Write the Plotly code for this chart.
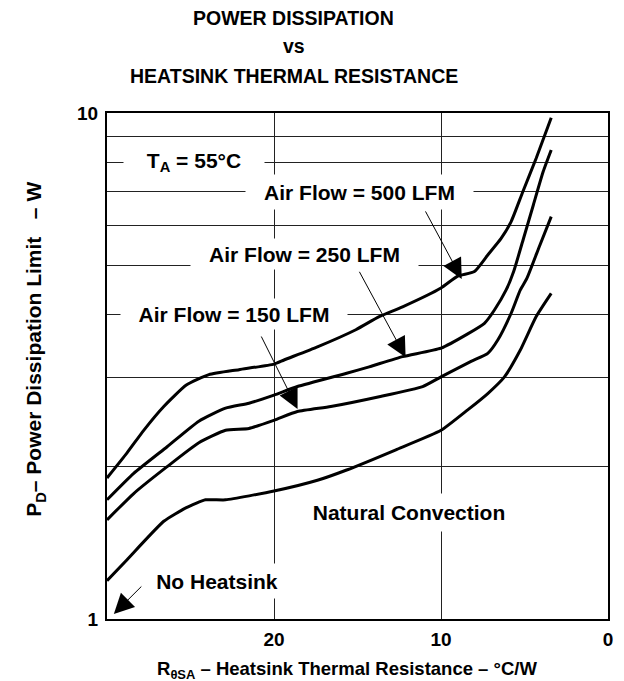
import math
import plotly.graph_objects as go

# ---- data ----
x_500 = [30, 28.8, 27.8, 26.6, 25.25, 23.9, 22.1, 20.0, 19.4, 17.4, 15.1, 13.7, 12.3, 10.0, 9.0, 8.0, 7.2, 6.4, 5.8, 5.1, 4.3, 3.4]
y_500 = [1.90, 2.13, 2.36, 2.63, 2.90, 3.04, 3.11, 3.19, 3.25, 3.45, 3.73, 3.96, 4.14, 4.51, 4.76, 4.86, 5.24, 5.65, 6.10, 6.99, 8.14, 9.79]

x_250 = [30, 28.4, 26.4, 24.5, 22.9, 21.5, 20.0, 18.6, 15.65, 14.3, 12.3, 10.0, 8.4, 7.4, 6.8, 6.1, 5.65, 5.06, 4.47, 3.88, 3.4]
y_250 = [1.72, 1.94, 2.19, 2.46, 2.61, 2.67, 2.77, 2.88, 3.06, 3.15, 3.30, 3.43, 3.66, 3.84, 4.08, 4.47, 4.86, 5.65, 6.58, 7.66, 8.45]

x_150 = [30, 28.4, 26.4, 24.5, 22.9, 21.5, 20.0, 18.6, 16.6, 13.7, 11.1, 10.0, 8.2, 7.2, 6.6, 5.8, 5.25, 4.86, 4.08, 3.4]
y_150 = [1.57, 1.77, 2.00, 2.23, 2.36, 2.38, 2.47, 2.57, 2.63, 2.75, 2.88, 3.01, 3.23, 3.35, 3.56, 4.02, 4.47, 4.71, 5.48, 6.24]

x_nat = [30, 28.8, 26.6, 25.25, 24.1, 22.9, 20.0, 17.4, 15.65, 12.7, 10.0, 8.4, 7.2, 6.2, 5.25, 4.3, 3.4]
y_nat = [1.19, 1.31, 1.56, 1.66, 1.72, 1.72, 1.79, 1.88, 1.97, 2.16, 2.36, 2.59, 2.79, 3.01, 3.40, 3.96, 4.40]

x_ticks = [20, 10, 0]
x_ticktext = ["20", "10", "0"]
y_ticks = [1, 2, 3, 4, 5, 6, 7, 8, 9, 10]
y_ticktext = ["1", "", "", "", "", "", "", "", "", "10"]

title_lines = ["POWER DISSIPATION", "vs", "HEATSINK THERMAL RESISTANCE"]
x_title = "R<sub>θSA</sub> – Heatsink Thermal Resistance – °C/W"
y_title = "P<sub>D</sub>– Power Dissipation Limit &nbsp;&nbsp;– W"

# label text, x (°C/W), y (W), box width, box height
labels = [
    ("T<sub>A</sub> = 55°C", 24.8, 8.0, 140, 30),
    ("Air Flow = 500 LFM", 14.9, 6.98, 227, 34),
    ("Air Flow = 250 LFM", 18.2, 5.26, 227, 30),
    ("Air Flow = 150 LFM", 22.4, 4.0, 226, 30),
    ("Natural Convection", 11.9, 1.62, 220, 37),
    ("No Heatsink", 23.4, 1.19, 140, 34),
]
# arrow tip x (°C/W), tip y (W), tail offset (px)
arrows = [
    (8.76, 4.70, -37, -69),
    (12.12, 3.29, -47, -87),
    (18.59, 2.60, -37, -74),
    (29.59, 1.023, 29, -29),
]

FONT = "Liberation Sans, Arial, sans-serif"

fig = go.Figure()
for xs, ys in [(x_500, y_500), (x_250, y_250), (x_150, y_150), (x_nat, y_nat)]:
    fig.add_trace(go.Scatter(x=xs, y=ys, mode="lines",
                             line=dict(color="black", width=3, shape="spline", smoothing=0.5),
                             hoverinfo="skip"))

annotations = []
for (t, xv, yv, w, h) in labels:
    annotations.append(dict(x=xv, y=math.log10(yv), xref="x", yref="y", text="<b>%s</b>" % t,
                            showarrow=False, bgcolor="white", width=w, height=h, borderpad=0,
                            font=dict(family=FONT, size=21, color="black"),
                            xanchor="center", yanchor="middle"))
for (xv, yv, ax, ay) in arrows:
    annotations.append(dict(x=xv, y=math.log10(yv), xref="x", yref="y", text="",
                            showarrow=True, ax=ax, ay=ay, arrowhead=2, arrowsize=4,
                            arrowwidth=1, arrowcolor="black"))

# title lines
for line, shift in zip(title_lines, [95, 67, 37]):
    annotations.append(dict(x=0.3725, y=1, xref="paper", yref="paper", text="<b>%s</b>" % line,
                            showarrow=False, yanchor="middle", yshift=shift,
                            font=dict(family=FONT, size=19.5, color="black")))
# axis titles
annotations.append(dict(x=0.48, y=0, xref="paper", yref="paper", text="<b>%s</b>" % x_title,
                        showarrow=False, yanchor="middle", yshift=-51,
                        font=dict(family=FONT, size=18.5, color="black")))
annotations.append(dict(x=0, y=0.532, xref="paper", yref="paper", text="<b>%s</b>" % y_title,
                        showarrow=False, textangle=-90, xanchor="center", xshift=-72,
                        font=dict(family=FONT, size=21, color="black")))

fig.update_layout(
    width=624, height=681,
    margin=dict(l=107, r=11, t=113, b=62),
    plot_bgcolor="white", paper_bgcolor="white",
    showlegend=False,
    annotations=annotations,
    xaxis=dict(range=[30, 0], tickvals=x_ticks, ticktext=["<b>%s</b>" % t for t in x_ticktext],
               showgrid=True, gridcolor="#222", gridwidth=1, zeroline=False,
               showline=True, linecolor="black", linewidth=2, mirror=True,
               ticks="", ticklabelstandoff=2,
               tickfont=dict(family=FONT, size=19, color="black")),
    yaxis=dict(type="log", range=[0, 1], tickvals=y_ticks,
               ticktext=["<b>%s</b>" % t if t else "" for t in y_ticktext],
               showgrid=True, gridcolor="#222", gridwidth=1, zeroline=False,
               showline=True, linecolor="black", linewidth=2, mirror=True,
               ticks="", ticklabelstandoff=3,
               tickfont=dict(family=FONT, size=19, color="black")),
)

fig.write_html("out.html", config={"displayModeBar": False},
               post_script="document.body.style.margin='0';")
